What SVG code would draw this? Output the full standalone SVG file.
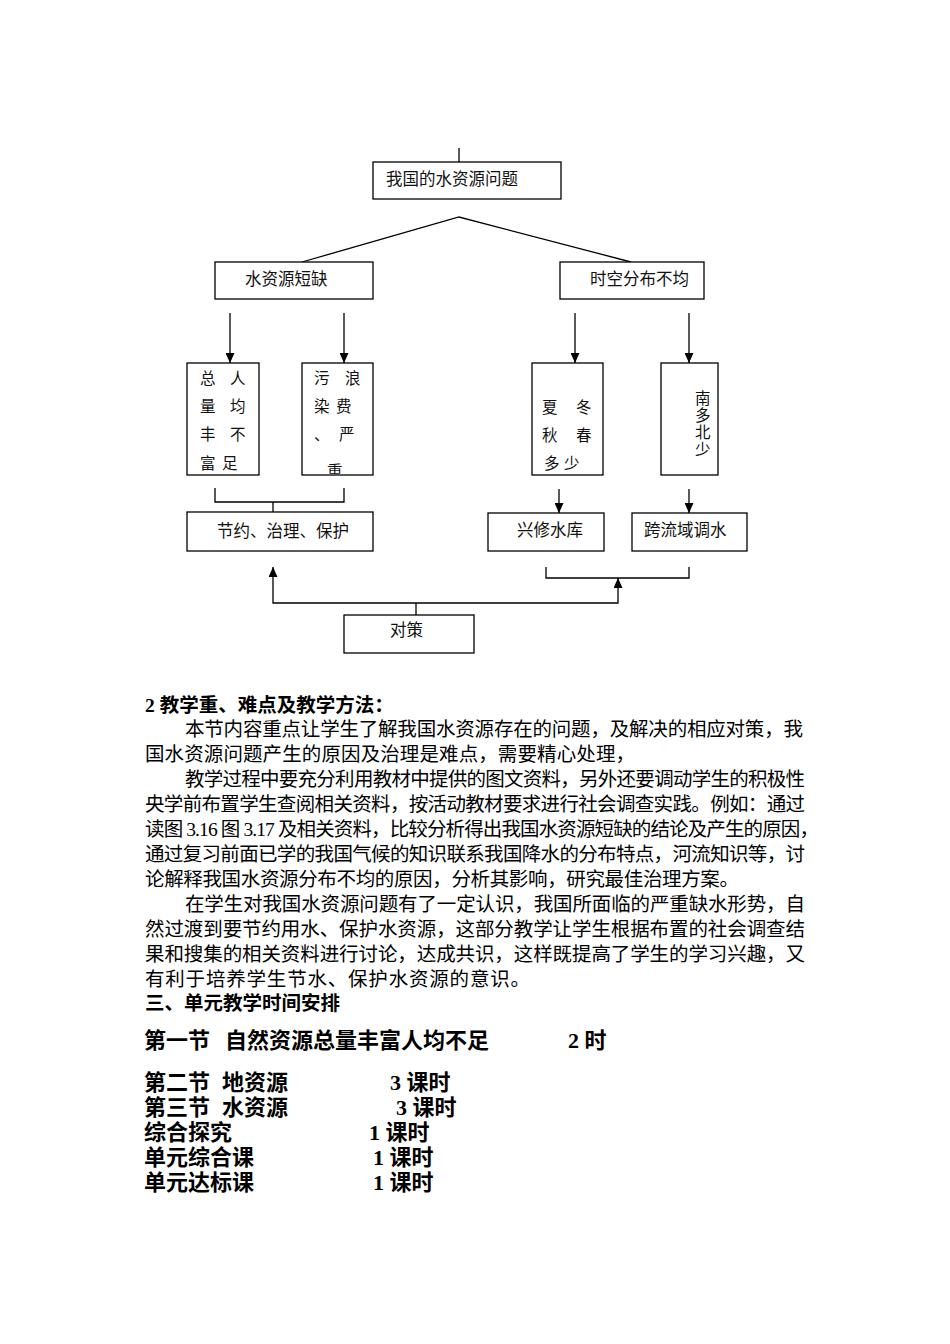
<svg xmlns="http://www.w3.org/2000/svg" width="950" height="1344" viewBox="0 0 950 1344">
<style>
.box{fill:#fff;stroke:#000;stroke-width:1.3}
.ln{fill:none;stroke:#000;stroke-width:1.3}
.t{font-family:"Liberation Serif","Noto Sans CJK SC",serif;font-size:16.5px;fill:#111}
.s{font-family:"Liberation Serif","Noto Sans CJK SC",serif;font-size:15.5px;fill:#111}
.p{font-family:"Liberation Serif","Noto Sans CJK SC",serif;font-size:19.5px;fill:#000}
.h{font-family:"Liberation Serif","Noto Sans CJK SC",serif;font-size:19.5px;font-weight:bold;fill:#000}
.b{font-family:"Liberation Serif","Noto Sans CJK SC",serif;font-size:22px;font-weight:bold;fill:#000}
</style>
<defs>
<marker id="arr" markerUnits="userSpaceOnUse" markerWidth="10" markerHeight="9" refX="10" refY="4.5" orient="auto">
<path d="M0,0 L10,4.5 L0,9 z" fill="#000"/>
</marker>
<clipPath id="clipB2"><rect x="302" y="363" width="71" height="111"/></clipPath>
</defs>
<rect width="950" height="1344" fill="#fff"/>

<g id="connectors">
<line class="ln" x1="459" y1="148" x2="459" y2="162"/>
<polyline class="ln" points="302,262 459,217 631,262"/>
<line class="ln" x1="230" y1="313" x2="230" y2="363" marker-end="url(#arr)"/>
<line class="ln" x1="344" y1="313" x2="344" y2="363" marker-end="url(#arr)"/>
<line class="ln" x1="575" y1="313" x2="575" y2="363" marker-end="url(#arr)"/>
<line class="ln" x1="689" y1="313" x2="689" y2="363" marker-end="url(#arr)"/>
<polyline class="ln" points="215,488 215,502 344,502 344,488"/>
<line class="ln" x1="273" y1="502" x2="273" y2="512"/>
<line class="ln" x1="559" y1="489" x2="559" y2="513" marker-end="url(#arr)"/>
<line class="ln" x1="689" y1="489" x2="689" y2="513" marker-end="url(#arr)"/>
<polyline class="ln" points="546,567 546,578 689,578 689,567"/>
<line class="ln" x1="416" y1="615" x2="416" y2="603"/>
<polyline class="ln" points="416,603 273,603 273,567" marker-end="url(#arr)"/>
<polyline class="ln" points="416,603 618,603 618,578" marker-end="url(#arr)"/>
</g>

<g id="node-root">
<rect class="box" x="373" y="162" width="188" height="37"/>
<text class="t" x="386" y="185">我国的水资源问题</text>
</g>
<g id="node-shortage">
<rect class="box" x="215" y="262" width="158" height="37"/>
<text class="t" x="245" y="285">水资源短缺</text>
</g>
<g id="node-uneven">
<rect class="box" x="560" y="262" width="144" height="37"/>
<text class="t" x="590" y="285">时空分布不均</text>
</g>
<g id="node-total">
<rect class="box" x="187" y="363" width="72" height="112"/>
<text class="s" x="200" y="384">总</text><text class="s" x="230" y="384">人</text>
<text class="s" x="200" y="412">量</text><text class="s" x="230" y="412">均</text>
<text class="s" x="200" y="440">丰</text><text class="s" x="230" y="440">不</text>
<text class="s" x="200" y="469">富</text><text class="s" x="222" y="469">足</text>
</g>
<g id="node-pollution">
<rect class="box" x="302" y="363" width="71" height="112"/>
<g clip-path="url(#clipB2)">
<text class="s" x="314" y="384">污</text><text class="s" x="345" y="384">浪</text>
<text class="s" x="314" y="412">染</text><text class="s" x="336" y="412">费</text>
<text class="s" x="314" y="440">、</text><text class="s" x="339" y="440">严</text>
<text class="s" x="327" y="477">重</text>
</g>
</g>
<g id="node-season">
<rect class="box" x="532" y="363" width="71" height="112"/>
<text class="s" x="542" y="413">夏</text><text class="s" x="576" y="413">冬</text>
<text class="s" x="542" y="441">秋</text><text class="s" x="576" y="441">春</text>
<text class="s" x="544" y="469">多</text><text class="s" x="564" y="469">少</text>
</g>
<g id="node-region">
<rect class="box" x="661" y="363" width="57" height="112"/>
<text class="s" x="695" y="404">南</text>
<text class="s" x="695" y="421">多</text>
<text class="s" x="695" y="438">北</text>
<text class="s" x="695" y="455">少</text>
</g>
<g id="node-save">
<rect class="box" x="187" y="512" width="186" height="39"/>
<text class="t" x="217" y="537">节约、治理、保护</text>
</g>
<g id="node-reservoir">
<rect class="box" x="488" y="513" width="116" height="38"/>
<text class="t" x="517" y="536">兴修水库</text>
</g>
<g id="node-transfer">
<rect class="box" x="632" y="513" width="115" height="38"/>
<text class="t" x="644" y="536">跨流域调水</text>
</g>
<g id="node-measures">
<rect class="box" x="344" y="615" width="130" height="38"/>
<text class="t" x="390" y="636">对策</text>
</g>

<g id="body-text">
<text class="h" x="145" y="712">2 教学重、难点及教学方法：</text>
<text class="p" x="185" y="736" textLength="618" lengthAdjust="spacing">本节内容重点让学生了解我国水资源存在的问题，及解决的相应对策，我</text>
<text class="p" x="145" y="761" textLength="490" lengthAdjust="spacing">国水资源问题产生的原因及治理是难点，需要精心处理，</text>
<text class="p" x="185" y="786" textLength="620" lengthAdjust="spacing">教学过程中要充分利用教材中提供的图文资料，另外还要调动学生的积极性</text>
<text class="p" x="145" y="811" textLength="660" lengthAdjust="spacing">央学前布置学生查阅相关资料，按活动教材要求进行社会调查实践。例如：通过</text>
<text class="p" x="145" y="836" textLength="674" lengthAdjust="spacing">读图 3.16 图 3.17 及相关资料，比较分析得出我国水资源短缺的结论及产生的原因，</text>
<text class="p" x="145" y="861" textLength="660" lengthAdjust="spacing">通过复习前面已学的我国气候的知识联系我国降水的分布特点，河流知识等，讨</text>
<text class="p" x="145" y="886" textLength="594" lengthAdjust="spacing">论解释我国水资源分布不均的原因，分析其影响，研究最佳治理方案。</text>
<text class="p" x="185" y="911" textLength="620" lengthAdjust="spacing">在学生对我国水资源问题有了一定认识，我国所面临的严重缺水形势，自</text>
<text class="p" x="145" y="936" textLength="660" lengthAdjust="spacing">然过渡到要节约用水、保护水资源，这部分教学让学生根据布置的社会调查结</text>
<text class="p" x="145" y="961" textLength="660" lengthAdjust="spacing">果和搜集的相关资料进行讨论，达成共识，这样既提高了学生的学习兴趣，又</text>
<text class="p" x="145" y="986" textLength="385" lengthAdjust="spacing">有利于培养学生节水、保护水资源的意识。</text>
<text class="h" x="145" y="1010">三、单元教学时间安排</text>
</g>

<g id="schedule">
<text class="b" x="144" y="1048">第一节</text>
<text class="b" x="225" y="1048">自然资源总量丰富人均不足</text>
<text class="b" x="568" y="1048">2 时</text>
<text class="b" x="144" y="1090">第二节</text>
<text class="b" x="222" y="1090">地资源</text>
<text class="b" x="390" y="1090">3 课时</text>
<text class="b" x="144" y="1115">第三节</text>
<text class="b" x="222" y="1115">水资源</text>
<text class="b" x="396" y="1115">3 课时</text>
<text class="b" x="144" y="1140">综合探究</text>
<text class="b" x="369" y="1140">1 课时</text>
<text class="b" x="144" y="1165">单元综合课</text>
<text class="b" x="373" y="1165">1 课时</text>
<text class="b" x="144" y="1190">单元达标课</text>
<text class="b" x="373" y="1190">1 课时</text>
</g>
</svg>
